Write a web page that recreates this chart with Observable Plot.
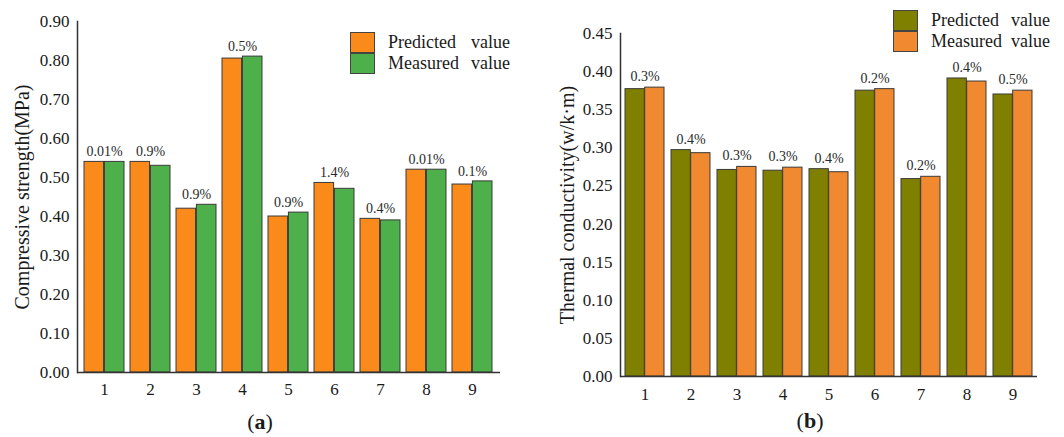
<!DOCTYPE html>
<html><head><meta charset="utf-8">
<script src="https://cdn.jsdelivr.net/npm/d3@7"></script>
<script src="https://cdn.jsdelivr.net/npm/@observablehq/plot@0.6"></script>
<style>
html,body{margin:0;padding:0;background:#fff;}
body{width:1064px;height:437px;position:relative;overflow:hidden;font-family:"Liberation Serif","Times New Roman",serif;color:#1a1a1a;}
.panel{position:absolute;top:0;}
.legend{position:absolute;font-size:18px;}
.legend .row{display:flex;align-items:center;height:21px;white-space:nowrap;}
.legend .sw{width:25px;height:21px;border:1px solid #444;box-sizing:border-box;margin-right:13px;}
.legend .w1{display:inline-block;}
.cap{position:absolute;font-size:22px;transform:translate(-50%,-50%);white-space:nowrap;}
</style>
</head><body>
<div id="a" class="panel" style="left:0"></div>
<div id="b" class="panel" style="left:532px"></div>
<div class="legend" style="left:350px;top:32px">
  <div class="row"><span class="sw" style="background:#FA8A1A"></span><span class="w1" style="width:83px">Predicted</span><span>value</span></div>
  <div class="row"><span class="sw" style="background:#4DB04A"></span><span class="w1" style="width:83px">Measured</span><span>value</span></div>
</div>
<div class="legend" style="left:893px;top:10px">
  <div class="row"><span class="sw" style="background:#808000"></span><span class="w1" style="width:80px">Predicted</span><span>value</span></div>
  <div class="row"><span class="sw" style="background:#F0892F"></span><span class="w1" style="width:80px">Measured</span><span>value</span></div>
</div>
<div class="cap" style="left:260px;top:422px">(<b>a</b>)</div>
<div class="cap" style="left:810px;top:421px">(<b>b</b>)</div>
<script>
const groups = ["1","2","3","4","5","6","7","8","9"];
const strengthPredicted = [0.540, 0.540, 0.420, 0.805, 0.400, 0.486, 0.394, 0.520, 0.482];
const strengthMeasured  = [0.540, 0.530, 0.430, 0.810, 0.410, 0.471, 0.390, 0.520, 0.490];
const strengthError = ["0.01%","0.9%","0.9%","0.5%","0.9%","1.4%","0.4%","0.01%","0.1%"];
const strengthTicks = [0,0.1,0.2,0.3,0.4,0.5,0.6,0.7,0.8,0.9];
const thermalPredicted = [0.377, 0.297, 0.271, 0.270, 0.272, 0.375, 0.259, 0.391, 0.370];
const thermalMeasured  = [0.379, 0.293, 0.275, 0.274, 0.268, 0.377, 0.262, 0.387, 0.375];
const thermalError = ["0.3%","0.4%","0.3%","0.3%","0.4%","0.2%","0.2%","0.4%","0.5%"];
const thermalTicks = [0,0.05,0.1,0.15,0.2,0.25,0.3,0.35,0.4,0.45];

function grouped(o) {
  const width = 532;
  const n = groups.length;
  const step = (width - o.marginLeft - o.marginRight) / (n - o.pi + 2 * o.po);
  const half = step * (1 - o.pi) / 2;
  const rows = groups.map((g, i) => ({g, pred: o.pred[i], meas: o.meas[i], top: Math.max(o.pred[i], o.meas[i]), lab: o.labels[i]}));
  return Plot.plot({
    width, height: o.height,
    marginLeft: o.marginLeft, marginRight: o.marginRight, marginTop: o.marginTop, marginBottom: o.marginBottom,
    style: {fontFamily: '"Liberation Serif","Times New Roman",serif', fontSize: "17px", color: "#1a1a1a", background: "transparent", overflow: "visible"},
    x: {domain: groups, paddingInner: o.pi, paddingOuter: o.po, axis: null},
    y: {domain: [0, o.ticks[o.ticks.length - 1]], axis: null},
    marks: [
      Plot.barY(rows, {x: "g", y: "pred", fill: o.colors[0], stroke: "#3a3a3a", strokeWidth: 1, insetRight: half}),
      Plot.barY(rows, {x: "g", y: "meas", fill: o.colors[1], stroke: "#3a3a3a", strokeWidth: 1, insetLeft: half}),
      Plot.text(rows, {x: "g", y: "top", text: "lab", dy: o.labelDy, fontSize: 14, fill: "#2a2a2a"}),
      Plot.ruleY([0], {stroke: "#333", strokeWidth: 1.5}),
      Plot.frame({anchor: "left", stroke: "#333", strokeWidth: 1.5}),
      Plot.axisX({tickSize: 0, tickPadding: o.xPad, label: null, fontSize: 17}),
      Plot.axisY({ticks: o.ticks, tickFormat: d3.format(".2f"), tickSize: 0, tickPadding: 8, label: null, fontSize: 17}),
      Plot.text([o.yLabel], {frameAnchor: "left", textAnchor: "middle", rotate: -90, dx: o.titleDx, fontSize: 20, fill: "#1a1a1a"})
    ]
  });
}

document.getElementById("a").append(grouped({
  pred: strengthPredicted, meas: strengthMeasured, labels: strengthError, ticks: strengthTicks,
  colors: ["#FA8A1A", "#4DB04A"], yLabel: "Compressive strength(MPa)",
  marginLeft: 77, marginRight: 32, marginTop: 21, marginBottom: 29, height: 401,
  pi: 0.13, po: 0.07, labelDy: -10, xPad: 10, titleDx: -55
}));
document.getElementById("b").append(grouped({
  pred: thermalPredicted, meas: thermalMeasured, labels: thermalError, ticks: thermalTicks,
  colors: ["#808000", "#F0892F"], yLabel: "Thermal conductivity(w/k·m)",
  marginLeft: 88, marginRight: 27, marginTop: 33, marginBottom: 34, height: 410,
  pi: 0.15, po: 0.08, labelDy: -11, xPad: 11, titleDx: -53
}));
</script>
</body></html>
